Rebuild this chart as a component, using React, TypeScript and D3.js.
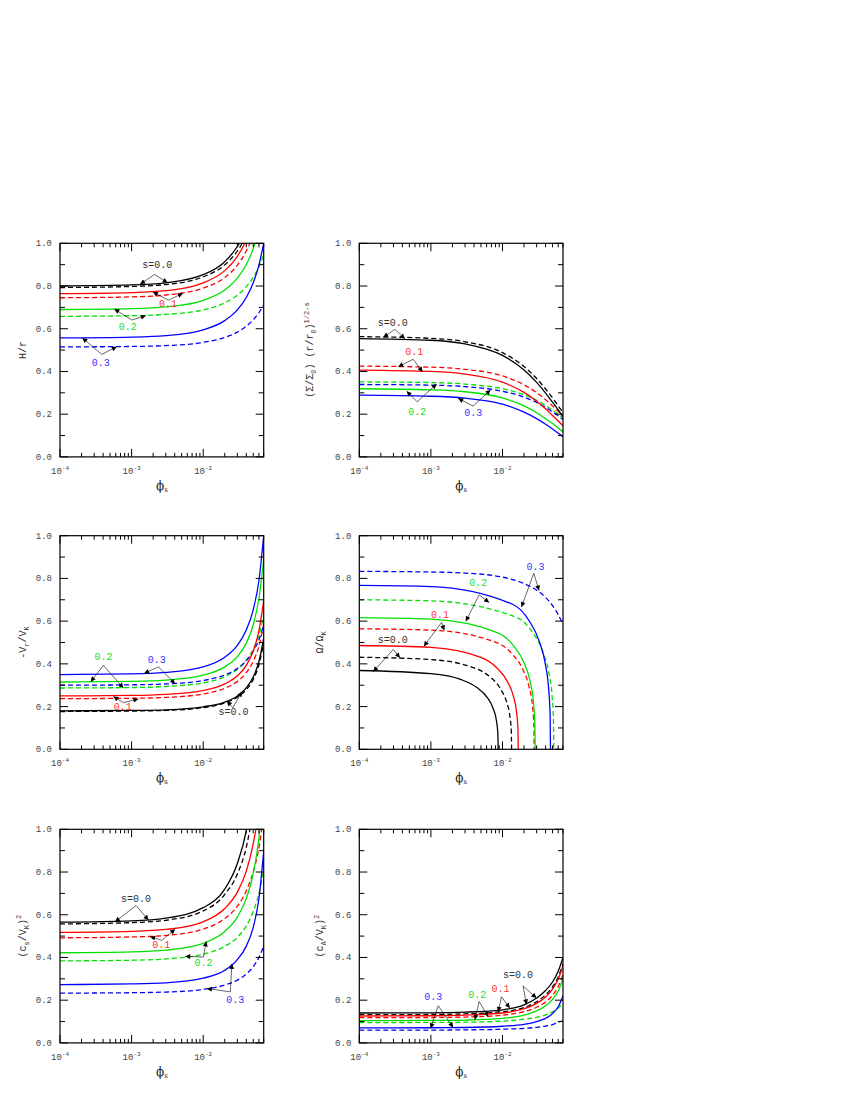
import React from "react";
import * as d3 from "d3";

// ---------- shared data ----------
const S_LABELS = ["s=0.0", "0.1", "0.2", "0.3"];
const LINE_COLORS = ["#000000", "#ff0000", "#00e000", "#0000ff"];
const TEXT_COLORS = ["#333333", "#ff3333", "#22dd22", "#3333ff"];
const X_STD = [1e-4, 1e-3, 3e-3, 1e-2, 2e-2, 3e-2, 4e-2, 5e-2, 6e-2, 7e-2];
const X_DOMAIN = [1e-4, 0.07];
const Y_MAJOR = [0, 0.2, 0.4, 0.6, 0.8, 1.0];
const Y_MINOR = [0.1, 0.3, 0.5, 0.7, 0.9];
const X_MAJOR = [1e-4, 1e-3, 1e-2];
const X_MAJOR_EXP = ["-4", "-3", "-2"];

// ---------- panel 1 : H/r ----------
const HR_SOLID = [
  [0.800, 0.805, 0.815, 0.853, 0.914, 0.985, 1.067, 1.16, 1.27, 1.40],
  [0.764, 0.769, 0.778, 0.815, 0.872, 0.939, 1.016, 1.107, 1.22, 1.35],
  [0.690, 0.694, 0.702, 0.733, 0.781, 0.837, 0.901, 0.975, 1.063, 1.17],
  [0.557, 0.561, 0.568, 0.595, 0.638, 0.688, 0.746, 0.815, 0.898, 1.00],
];
const HR_DASHED = [
  [0.793, 0.798, 0.807, 0.843, 0.899, 0.964, 1.038, 1.126, 1.23, 1.35],
  [0.745, 0.749, 0.758, 0.790, 0.840, 0.898, 0.964, 1.039, 1.13, 1.24],
  [0.658, 0.661, 0.667, 0.688, 0.721, 0.757, 0.797, 0.841, 0.890, 0.946],
  [0.515, 0.517, 0.521, 0.536, 0.559, 0.584, 0.612, 0.642, 0.675, 0.712],
];
const HR_ANN = [
  { i: 0, tx: -2.643, ty: 0.884, ax: -2.678, ay: 0.854, p: [[-2.881, 0.809], [-2.497, 0.815]] },
  { i: 1, tx: -2.49, ty: 0.702, ax: -2.485, ay: 0.734, p: [[-2.703, 0.772], [-2.284, 0.766]] },
  { i: 2, tx: -3.053, ty: 0.595, ax: -2.997, ay: 0.641, p: [[-3.241, 0.692], [-2.801, 0.661]] },
  { i: 3, tx: -3.431, ty: 0.424, ax: -3.417, ay: 0.48, p: [[-3.688, 0.557], [-3.207, 0.516]] },
];

// ---------- panel 2 : surface density ----------
const SIG_SOLID = [
  [0.554, 0.546, 0.529, 0.475, 0.407, 0.349, 0.299, 0.256, 0.220, 0.189],
  [0.406, 0.400, 0.388, 0.350, 0.302, 0.261, 0.225, 0.194, 0.168, 0.145],
  [0.319, 0.314, 0.305, 0.276, 0.239, 0.207, 0.179, 0.156, 0.135, 0.117],
  [0.289, 0.284, 0.275, 0.247, 0.210, 0.179, 0.153, 0.131, 0.111, 0.095],
];
const SIG_DASHED = [
  [0.563, 0.555, 0.539, 0.488, 0.423, 0.367, 0.318, 0.276, 0.239, 0.207],
  [0.425, 0.420, 0.410, 0.379, 0.338, 0.301, 0.268, 0.239, 0.213, 0.190],
  [0.351, 0.348, 0.341, 0.319, 0.291, 0.265, 0.241, 0.219, 0.200, 0.183],
  [0.339, 0.336, 0.329, 0.307, 0.280, 0.255, 0.232, 0.211, 0.192, 0.175],
];
const SIG_ANN = [
  { i: 0, tx: -3.534, ty: 0.611, ax: -3.502, ay: 0.597, p: [[-3.665, 0.560], [-3.363, 0.553]] },
  { i: 1, tx: -3.233, ty: 0.478, ax: -3.247, ay: 0.457, p: [[-3.456, 0.422], [-3.116, 0.398]] },
  { i: 2, tx: -3.191, ty: 0.197, ax: -3.191, ay: 0.258, p: [[-3.339, 0.307], [-2.92, 0.341]] },
  { i: 3, tx: -2.41, ty: 0.19, ax: -2.41, ay: 0.238, p: [[-2.619, 0.274], [-2.167, 0.313]] },
];

// ---------- panel 3 : -Vr/VK ----------
const VR_SOLID = [
  [0.180, 0.182, 0.185, 0.199, 0.221, 0.250, 0.288, 0.338, 0.411, 0.520],
  [0.250, 0.252, 0.257, 0.275, 0.306, 0.344, 0.393, 0.460, 0.554, 0.695],
  [0.315, 0.318, 0.324, 0.347, 0.386, 0.434, 0.497, 0.583, 0.706, 0.890],
  [0.350, 0.353, 0.360, 0.386, 0.431, 0.487, 0.559, 0.653, 0.789, 1.000],
];
const VR_DASHED = [
  [0.177, 0.179, 0.182, 0.195, 0.217, 0.244, 0.279, 0.327, 0.396, 0.500],
  [0.237, 0.239, 0.243, 0.259, 0.286, 0.318, 0.359, 0.412, 0.482, 0.585],
  [0.287, 0.289, 0.294, 0.311, 0.340, 0.375, 0.417, 0.469, 0.535, 0.625],
  [0.300, 0.302, 0.306, 0.322, 0.348, 0.378, 0.415, 0.459, 0.514, 0.580],
];
const VR_ANN = [
  { i: 2, tx: -3.394, ty: 0.419, ax: -3.394, ay: 0.393, p: [[-3.571, 0.316], [-3.115, 0.287]] },
  { i: 3, tx: -2.648, ty: 0.406, ax: -2.625, ay: 0.386, p: [[-2.825, 0.355], [-2.392, 0.307]] },
  { i: 1, tx: -3.123, ty: 0.185, ax: -3.115, ay: 0.218, p: [[-3.255, 0.247], [-2.905, 0.236]] },
  { i: 0, tx: -1.576, ty: 0.16, ax: -1.585, ay: 0.195, p: [[-1.669, 0.226], [-1.459, 0.27]] },
];

// ---------- panel 4 : Omega/Omega_K ----------
const OM_SOLID_X = [
  [1e-4, 1e-3, 0.0026, 0.00435, 0.0061, 0.0074, 0.00827, 0.00861, 0.0087],
  [1e-4, 1e-3, 0.00498, 0.0083, 0.01162, 0.01411, 0.01577, 0.01643, 0.0166],
  [1e-4, 1e-3, 0.00858, 0.0143, 0.02002, 0.02431, 0.02717, 0.02831, 0.0286],
  [1e-4, 1e-3, 0.01404, 0.0234, 0.03276, 0.03978, 0.04446, 0.04633, 0.0468],
];
const OM_SOLID = [
  [0.369, 0.354, 0.327, 0.290, 0.243, 0.191, 0.130, 0.074, 0],
  [0.486, 0.477, 0.430, 0.382, 0.319, 0.251, 0.170, 0.097, 0],
  [0.616, 0.609, 0.545, 0.484, 0.405, 0.318, 0.216, 0.123, 0],
  [0.767, 0.762, 0.678, 0.603, 0.504, 0.396, 0.269, 0.153, 0],
];
const OM_DASHED_X = [
  [1e-4, 1e-3, 0.00402, 0.0067, 0.00938, 0.01139, 0.01273, 0.01327, 0.0134],
  [1e-4, 1e-3, 0.00831, 0.01385, 0.01939, 0.02355, 0.02632, 0.02742, 0.0277],
  [1e-4, 1e-3, 0.0156, 0.026, 0.0364, 0.0442, 0.0494, 0.05148, 0.052],
  X_STD,
];
const OM_DASHED = [
  [0.431, 0.420, 0.381, 0.339, 0.283, 0.222, 0.151, 0.086, 0],
  [0.564, 0.558, 0.499, 0.444, 0.371, 0.291, 0.198, 0.112, 0],
  [0.700, 0.695, 0.618, 0.550, 0.459, 0.361, 0.245, 0.139, 0],
  [0.833, 0.830, 0.825, 0.806, 0.776, 0.745, 0.711, 0.673, 0.631, 0.583],
];
const OM_ANN = [
  { i: 3, tx: -1.54, ty: 0.841, ax: -1.563, ay: 0.824, p: [[-1.735, 0.666], [-1.49, 0.743]] },
  { i: 2, tx: -2.34, ty: 0.763, ax: -2.326, ay: 0.723, p: [[-2.512, 0.599], [-2.187, 0.687]] },
  { i: 1, tx: -2.874, ty: 0.615, ax: -2.851, ay: 0.594, p: [[-3.098, 0.482], [-2.814, 0.557]] },
  { i: 0, tx: -3.534, ty: 0.496, ax: -3.526, ay: 0.467, p: [[-3.805, 0.364], [-3.432, 0.428]] },
];

// ---------- panel 5 : (cs/VK)^2 ----------
const CS_SOLID = [
  [0.565, 0.571, 0.584, 0.633, 0.720, 0.840, 0.995, 1.22, 1.50, 1.90],
  [0.517, 0.522, 0.531, 0.567, 0.629, 0.706, 0.804, 0.933, 1.10, 1.35],
  [0.422, 0.426, 0.434, 0.466, 0.522, 0.589, 0.676, 0.793, 0.960, 1.22],
  [0.273, 0.276, 0.281, 0.303, 0.340, 0.390, 0.453, 0.541, 0.675, 0.896],
];
const CS_DASHED = [
  [0.557, 0.563, 0.574, 0.618, 0.695, 0.791, 0.917, 1.10, 1.35, 1.70],
  [0.492, 0.496, 0.503, 0.533, 0.582, 0.640, 0.712, 0.801, 0.914, 1.068],
  [0.384, 0.387, 0.393, 0.415, 0.452, 0.494, 0.548, 0.615, 0.700, 0.810],
  [0.233, 0.235, 0.238, 0.250, 0.271, 0.294, 0.322, 0.357, 0.400, 0.453],
];
const CS_ANN = [
  { i: 0, tx: -2.937, ty: 0.66, ax: -2.937, ay: 0.643, p: [[-3.231, 0.567], [-2.765, 0.575]] },
  { i: 1, tx: -2.587, ty: 0.444, ax: -2.578, ay: 0.48, p: [[-2.741, 0.497], [-2.392, 0.532]] },
  { i: 2, tx: -1.996, ty: 0.362, ax: -1.996, ay: 0.402, p: [[-2.252, 0.405], [-1.958, 0.475]] },
  { i: 3, tx: -1.552, ty: 0.186, ax: -1.622, ay: 0.239, p: [[-1.948, 0.255], [-1.599, 0.37]] },
];

// ---------- panel 6 : (cA/VK)^2 ----------
const CA_SOLID = [
  [0.140, 0.141, 0.144, 0.155, 0.178, 0.210, 0.245, 0.285, 0.335, 0.400],
  [0.126, 0.127, 0.130, 0.140, 0.160, 0.185, 0.215, 0.252, 0.298, 0.360],
  [0.104, 0.105, 0.107, 0.115, 0.130, 0.150, 0.174, 0.204, 0.243, 0.300],
  [0.070, 0.071, 0.072, 0.078, 0.087, 0.100, 0.115, 0.137, 0.169, 0.220],
];
const CA_DASHED = [
  [0.132, 0.133, 0.136, 0.146, 0.166, 0.193, 0.225, 0.262, 0.308, 0.370],
  [0.118, 0.119, 0.121, 0.130, 0.146, 0.167, 0.192, 0.223, 0.264, 0.320],
  [0.095, 0.096, 0.097, 0.102, 0.111, 0.120, 0.131, 0.145, 0.163, 0.186],
  [0.060, 0.060, 0.061, 0.064, 0.068, 0.073, 0.079, 0.086, 0.097, 0.103],
];
const CA_ANN = [
  { i: 0, tx: -1.782, ty: 0.304, ax: -1.713, ay: 0.267, p: [[-1.665, 0.18], [-1.526, 0.21]] },
  { i: 1, tx: -2.028, ty: 0.238, ax: -2.014, ay: 0.216, p: [[-2.061, 0.145], [-1.898, 0.163]] },
  { i: 2, tx: -2.354, ty: 0.211, ax: -2.326, ay: 0.194, p: [[-2.386, 0.108], [-2.2, 0.122]] },
  { i: 3, tx: -2.968, ty: 0.199, ax: -2.898, ay: 0.174, p: [[-3.004, 0.068], [-2.689, 0.072]] },
];

// y-axis titles: [text, mode] segments
const YL_HR = [["H/r", ""]];
const YL_SIG = [["(Σ/Σ", ""], ["0", "sub"], [") (r/r", ""], ["0", "sub"], [")", ""], ["1/2-s", "sup"]];
const YL_VR = [["-V", ""], ["r", "sub"], ["/V", ""], ["K", "sub"]];
const YL_OM = [["Ω/Ω", ""], ["K", "sub"]];
const YL_CS = [["(c", ""], ["s", "sub"], ["/V", ""], ["K", "sub"], [")", ""], ["2", "sup"]];
const YL_CA = [["(c", ""], ["A", "sub"], ["/V", ""], ["K", "sub"], [")", ""], ["2", "sup"]];

// ---------- layout ----------
const COL_LEFT = [60, 359.3];
const ROW_TOP = [243.3, 535.7, 829.3];
const PW = 203.7;
const PH = 213.6;
const MONO = "'Liberation Mono', 'DejaVu Sans Mono', monospace";

function RichText({ segs, size, fill }: { segs: string[][]; size: number; fill: string }) {
  let cur = 0;
  return (
    <>
      {segs.map(([t, mode], k) => {
        const target = mode === "sub" ? size * 0.3 : mode === "sup" ? -size * 0.45 : 0;
        const dy = target - cur;
        cur = target;
        return (
          <tspan key={k} dy={dy} fontSize={mode ? size * 0.7 : size} fill={fill}>
            {t}
          </tspan>
        );
      })}
    </>
  );
}

type Ann = { i: number; tx: number; ty: number; ax: number; ay: number; p: number[][] };

function Panel(props: {
  id: string;
  left: number;
  top: number;
  ylabel: string[][];
  ylabelX: number;
  solidX: number[][];
  solid: number[][];
  dashedX: number[][];
  dashed: number[][];
  anns: Ann[];
}) {
  const { id, left, top, ylabel, ylabelX, solidX, solid, dashedX, dashed, anns } = props;
  const x = d3.scaleLog().domain(X_DOMAIN).range([left, left + PW]);
  const y = d3.scaleLinear().domain([0, 1]).range([top + PH, top]);
  const line = d3
    .line<number[]>()
    .x((d) => x(d[0]))
    .y((d) => y(d[1]))
    .curve(d3.curveMonotoneX);
  const bottom = top + PH;
  const right = left + PW;

  const minorX: number[] = [];
  for (let e = -4; e <= -2; e++) {
    for (let m = 2; m <= 9; m++) {
      const v = m * Math.pow(10, e);
      if (v <= X_DOMAIN[1] * 1.0001) minorX.push(v);
    }
  }

  const tickStroke = { stroke: "#000", strokeWidth: 1 };
  const lx = (l: number) => x(Math.pow(10, l));

  return (
    <g>
      <defs>
        <clipPath id={"clip" + id}>
          <rect x={left} y={top} width={PW} height={PH} />
        </clipPath>
      </defs>
      {/* curves */}
      <g clipPath={`url(#clip${id})`} fill="none">
        {dashed.map((ys, k) => (
          <path
            key={"d" + k}
            d={line(ys.map((v, j) => [dashedX[k][j], v])) || ""}
            stroke={LINE_COLORS[k]}
            strokeWidth={1.3}
            strokeDasharray="5,3"
          />
        ))}
        {solid.map((ys, k) => (
          <path
            key={"s" + k}
            d={line(ys.map((v, j) => [solidX[k][j], v])) || ""}
            stroke={LINE_COLORS[k]}
            strokeWidth={1.3}
          />
        ))}
      </g>
      {/* frame */}
      <rect x={left} y={top} width={PW} height={PH} fill="none" stroke="#000" strokeWidth={1.2} />
      {/* x ticks */}
      {X_MAJOR.map((v) => (
        <g key={"xm" + v}>
          <line x1={x(v)} x2={x(v)} y1={bottom} y2={bottom - 8} {...tickStroke} />
          <line x1={x(v)} x2={x(v)} y1={top} y2={top + 8} {...tickStroke} />
        </g>
      ))}
      {minorX.map((v) => (
        <g key={"xn" + v}>
          <line x1={x(v)} x2={x(v)} y1={bottom} y2={bottom - 4} {...tickStroke} />
          <line x1={x(v)} x2={x(v)} y1={top} y2={top + 4} {...tickStroke} />
        </g>
      ))}
      {/* y ticks */}
      {Y_MAJOR.map((v) => (
        <g key={"ym" + v}>
          <line x1={left} x2={left + 8} y1={y(v)} y2={y(v)} {...tickStroke} />
          <line x1={right} x2={right - 8} y1={y(v)} y2={y(v)} {...tickStroke} />
        </g>
      ))}
      {Y_MINOR.map((v) => (
        <g key={"yn" + v}>
          <line x1={left} x2={left + 5} y1={y(v)} y2={y(v)} {...tickStroke} />
          <line x1={right} x2={right - 5} y1={y(v)} y2={y(v)} {...tickStroke} />
        </g>
      ))}
      {/* tick labels */}
      {Y_MAJOR.map((v) => (
        <text
          key={"yl" + v}
          x={left - 8}
          y={y(v) + 3}
          textAnchor="end"
          fontFamily={MONO}
          fontSize={9}
          fill="#444"
        >
          {d3.format(".1f")(v)}
        </text>
      ))}
      {X_MAJOR.map((v, k) => (
        <text
          key={"xl" + v}
          x={x(v)}
          y={bottom + 17}
          textAnchor="middle"
          fontFamily={MONO}
          fontSize={9}
          fill="#444"
        >
          <tspan>10</tspan>
          <tspan dy={-4} fontSize={6}>
            {X_MAJOR_EXP[k]}
          </tspan>
        </text>
      ))}
      {/* x title */}
      <text x={(left + right) / 2} y={bottom + 33} textAnchor="middle" fontFamily="'DejaVu Serif', serif" fill="#222">
        <tspan fontSize={12}>ϕ</tspan>
        <tspan fontSize={7} dy={2}>
          s
        </tspan>
      </text>
      {/* y title */}
      <text
        transform={`translate(${left - ylabelX},${(top + bottom) / 2}) rotate(-90)`}
        textAnchor="middle"
        fontFamily={MONO}
      >
        <RichText segs={ylabel} size={10} fill="#333" />
      </text>
      {/* annotations */}
      {anns.map((a, k) => (
        <g key={"a" + k}>
          {a.p.map((pt, j) => (
            <line
              key={j}
              x1={lx(a.ax)}
              y1={y(a.ay)}
              x2={lx(pt[0])}
              y2={y(pt[1])}
              stroke="#000"
              strokeWidth={0.6}
              markerEnd="url(#arrowHead)"
            />
          ))}
          <text
            x={lx(a.tx)}
            y={y(a.ty)}
            textAnchor="middle"
            fontFamily={MONO}
            fontSize={10}
            fill={TEXT_COLORS[a.i]}
          >
            {S_LABELS[a.i]}
          </text>
        </g>
      ))}
    </g>
  );
}

const STD4 = [X_STD, X_STD, X_STD, X_STD];

export default function App() {
  return (
    <svg
      width={850}
      height={1100}
      style={{ position: "absolute", left: 0, top: 0, background: "#fff" }}
    >
      <defs>
        <marker
          id="arrowHead"
          viewBox="0 0 10 10"
          refX={10}
          refY={5}
          markerWidth={7}
          markerHeight={5}
          markerUnits="userSpaceOnUse"
          orient="auto"
        >
          <path d="M0,0 L10,5 L0,10 z" fill="#000" />
        </marker>
      </defs>
      <rect x={0} y={0} width={850} height={1100} fill="#fff" />
      <Panel id="p1" left={COL_LEFT[0]} top={ROW_TOP[0]} ylabel={YL_HR} ylabelX={34.5}
        solidX={STD4} solid={HR_SOLID} dashedX={STD4} dashed={HR_DASHED} anns={HR_ANN} />
      <Panel id="p2" left={COL_LEFT[1]} top={ROW_TOP[0]} ylabel={YL_SIG} ylabelX={46}
        solidX={STD4} solid={SIG_SOLID} dashedX={STD4} dashed={SIG_DASHED} anns={SIG_ANN} />
      <Panel id="p3" left={COL_LEFT[0]} top={ROW_TOP[1]} ylabel={YL_VR} ylabelX={34.5}
        solidX={STD4} solid={VR_SOLID} dashedX={STD4} dashed={VR_DASHED} anns={VR_ANN} />
      <Panel id="p4" left={COL_LEFT[1]} top={ROW_TOP[1]} ylabel={YL_OM} ylabelX={36}
        solidX={OM_SOLID_X} solid={OM_SOLID} dashedX={OM_DASHED_X} dashed={OM_DASHED} anns={OM_ANN} />
      <Panel id="p5" left={COL_LEFT[0]} top={ROW_TOP[2]} ylabel={YL_CS} ylabelX={34.5}
        solidX={STD4} solid={CS_SOLID} dashedX={STD4} dashed={CS_DASHED} anns={CS_ANN} />
      <Panel id="p6" left={COL_LEFT[1]} top={ROW_TOP[2]} ylabel={YL_CA} ylabelX={36}
        solidX={STD4} solid={CA_SOLID} dashedX={STD4} dashed={CA_DASHED} anns={CA_ANN} />
    </svg>
  );
}
